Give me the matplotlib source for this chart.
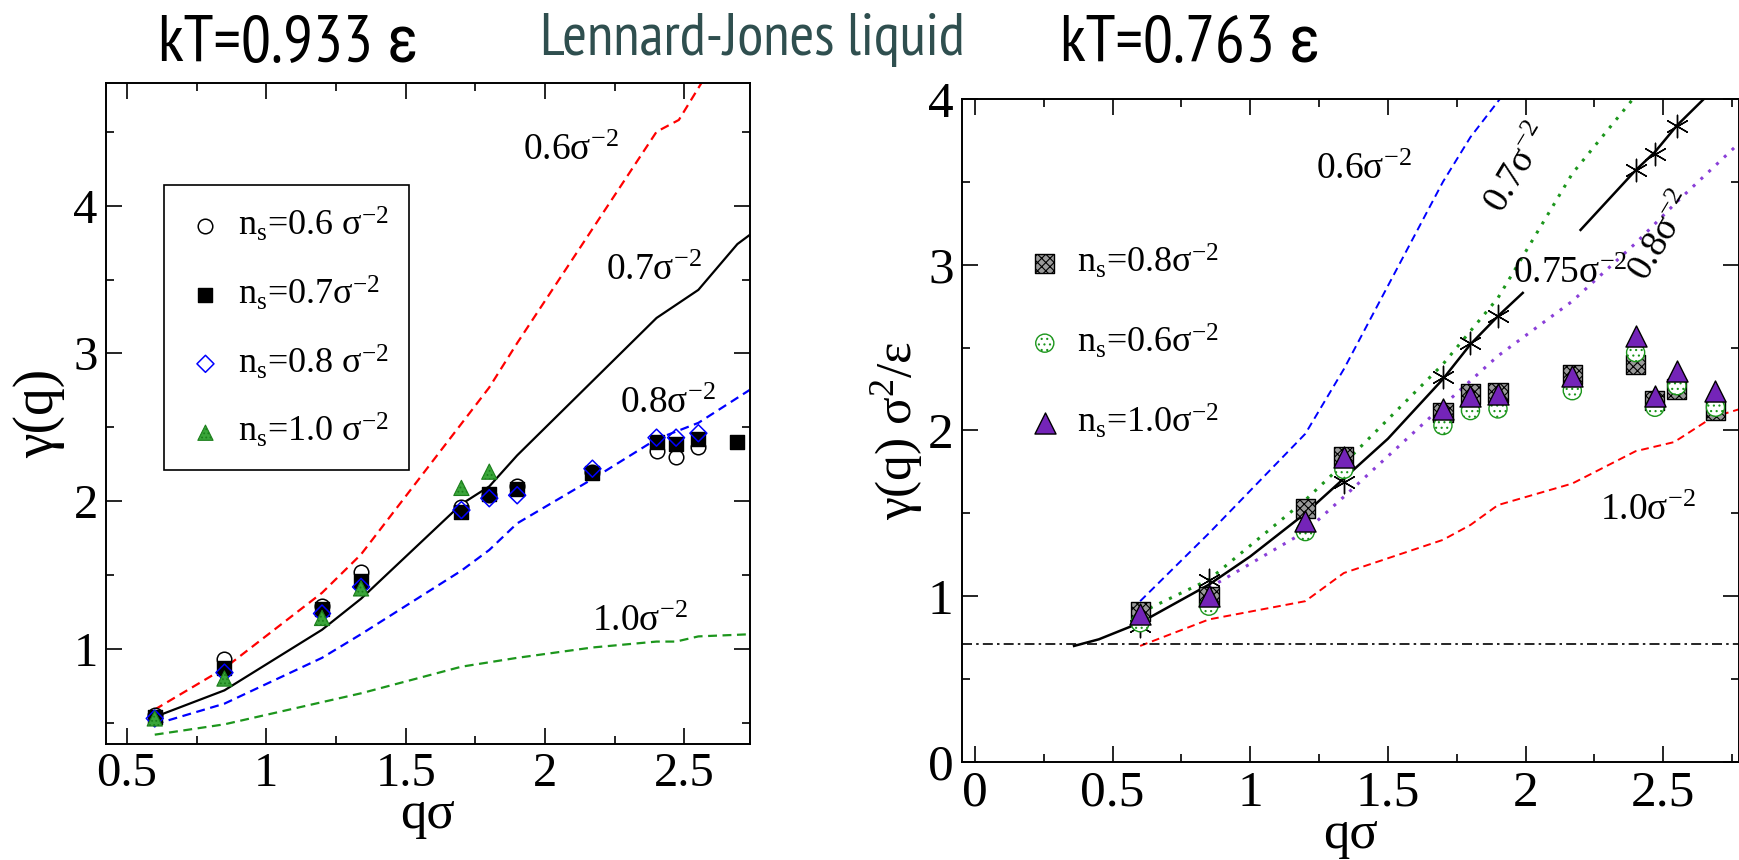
import numpy as np
import matplotlib
matplotlib.use('Agg')
import matplotlib.pyplot as plt
from matplotlib.ticker import MultipleLocator, FuncFormatter

plt.rcParams['font.family'] = ['Liberation Serif', 'DejaVu Serif']
plt.rcParams['mathtext.fontset'] = 'custom'
plt.rcParams['mathtext.rm'] = 'Liberation Serif'
plt.rcParams['mathtext.it'] = 'Liberation Serif:italic'
plt.rcParams['mathtext.bf'] = 'Liberation Serif:bold'
plt.rcParams['hatch.linewidth'] = 0.8

# ---------------- left panel data (kT = 0.933) ----------------
# theory curves
xl_06 = [0.6, 0.85, 1.2, 1.34, 1.8, 1.9, 2.4, 2.48, 2.6]
yl_06 = [0.59, 0.87, 1.38, 1.64, 2.77, 3.07, 4.50, 4.58, 4.95]
xl_07 = [0.6, 0.85, 1.2, 1.34, 1.7, 1.8, 1.9, 2.4, 2.55, 2.69, 2.74]
yl_07 = [0.54, 0.72, 1.13, 1.34, 1.98, 2.10, 2.31, 3.24, 3.43, 3.74, 3.81]
xl_08 = [0.6, 0.85, 1.2, 1.34, 1.7, 1.8, 1.9, 2.17, 2.4, 2.55, 2.74]
yl_08 = [0.49, 0.63, 0.94, 1.10, 1.53, 1.67, 1.85, 2.15, 2.42, 2.53, 2.76]
xl_10 = [0.6, 0.85, 1.2, 1.34, 1.7, 1.8, 1.9, 2.17, 2.4, 2.47, 2.55, 2.74]
yl_10 = [0.42, 0.49, 0.64, 0.70, 0.88, 0.91, 0.94, 1.01, 1.05, 1.05, 1.085, 1.10]

# simulation points
qs = [0.6, 0.85, 1.2, 1.34, 1.7, 1.8, 1.9, 2.17, 2.4, 2.47, 2.55, 2.69]
g_circ = [0.55, 0.93, 1.29, 1.52, 1.96, 2.04, 2.10, 2.20, 2.34, 2.30, 2.37]
g_sq = [0.54, 0.87, 1.27, 1.46, 1.93, 2.05, 2.08, 2.19, 2.40, 2.39, 2.42, 2.40]
g_dia = [0.53, 0.84, 1.24, 1.42, 1.94, 2.02, 2.04, 2.22, 2.43, 2.43, 2.46]
g_tri = [0.53, 0.80, 1.21, 1.41, 2.09, 2.20]

# ---------------- right panel data (kT = 0.763) ----------------
xr_06 = [0.6, 0.85, 1.2, 1.34, 1.7, 1.8, 1.93]
yr_06 = [0.97, 1.38, 1.98, 2.37, 3.50, 3.77, 4.05]
xr_07 = [0.6, 0.85, 1.2, 1.34, 1.7, 1.8, 1.9, 2.17, 2.4]
yr_07 = [0.90, 1.10, 1.58, 1.80, 2.40, 2.60, 2.80, 3.55, 4.02]
xr_075a = [0.36, 0.45, 0.6, 0.85, 1.0, 1.2, 1.34, 1.5, 1.7, 1.8, 1.9, 1.99]
yr_075a = [0.70, 0.74, 0.84, 1.07, 1.24, 1.50, 1.71, 1.95, 2.31, 2.52, 2.69, 2.83]
xr_075b = [2.2, 2.4, 2.47, 2.55, 2.66]
yr_075b = [3.21, 3.57, 3.68, 3.84, 4.02]
xr_08 = [0.85, 1.2, 1.34, 1.7, 1.8, 1.9, 2.17, 2.4, 2.55, 2.78]
yr_08 = [1.05, 1.39, 1.60, 2.15, 2.30, 2.45, 2.78, 3.13, 3.38, 3.74]
xr_10 = [0.6, 0.85, 1.2, 1.34, 1.7, 1.8, 1.9, 2.17, 2.4, 2.54, 2.68, 2.78]
yr_10 = [0.70, 0.86, 0.97, 1.14, 1.34, 1.43, 1.55, 1.68, 1.875, 1.93, 2.08, 2.13]
y_flat = 0.71

q_star = [0.6, 0.85, 1.34, 1.7, 1.8, 1.9, 2.4, 2.47, 2.55]
g_star = [0.82, 1.10, 1.69, 2.32, 2.53, 2.69, 3.57, 3.67, 3.84]
r_sq = [0.91, 1.00, 1.53, 1.845, 2.11, 2.22, 2.23, 2.34, 2.40, 2.18, 2.25, 2.12]
r_circ = [0.84, 0.94, 1.39, 1.765, 2.03, 2.12, 2.13, 2.24, 2.47, 2.14, 2.27, 2.14]
r_tri = [0.89, 1.00, 1.455, 1.84, 2.13, 2.21, 2.22, 2.33, 2.57, 2.21, 2.36, 2.24]

RED = '#ff0000'
BLUE = '#0000ff'
GREEN = '#1c961c'
PURPLE = '#8a3fd8'
TRI_PURPLE = '#7424b8'

fig = plt.figure(figsize=(17.4, 8.6), dpi=100)
ax1 = fig.add_axes([0.0609, 0.1349, 0.3701, 0.7686])
ax2 = fig.add_axes([0.5529, 0.1140, 0.4466, 0.7709])

fmt = FuncFormatter(lambda v, p: '%g' % v)


def style_axes(ax, fs):
    for s in ax.spines.values():
        s.set_linewidth(1.4)
    ax.tick_params(which='both', direction='in', top=True, right=True, width=1.2)
    ax.tick_params(which='major', length=11.5, labelsize=fs, pad=6)
    ax.tick_params(which='minor', length=5.8)
    ax.xaxis.set_major_formatter(fmt)
    ax.yaxis.set_major_formatter(fmt)


# ---------------- left ----------------
dash = (0, (4, 2.5))
ax1.plot(xl_06, yl_06, color=RED, lw=1.6, ls=dash)
ax1.plot(xl_07, yl_07, color='black', lw=1.6)
ax1.plot(xl_08, yl_08, color=BLUE, lw=1.6, ls=dash)
ax1.plot(xl_10, yl_10, color=GREEN, lw=1.6, ls=dash)

ax1.scatter(qs[:len(g_circ)], g_circ, s=110, marker='o', facecolor='white',
            edgecolor='black', lw=1.1, zorder=3)
ax1.scatter(qs, g_sq, s=95, marker='s', color='black', zorder=4)
ax1.scatter(qs[:len(g_dia)], g_dia, s=75, marker='D', facecolor='none',
            edgecolor=BLUE, lw=1.1, zorder=5)
ax1.scatter(qs[:len(g_tri)], g_tri, s=120, marker='^', facecolor='#3aa53a',
            edgecolor='#1c7f1c', hatch='....', lw=0.8, zorder=6)

ax1.set_xlim(0.425, 2.735)
ax1.set_ylim(0.357, 4.83)
ax1.xaxis.set_major_locator(MultipleLocator(0.5))
ax1.xaxis.set_minor_locator(MultipleLocator(0.25))
ax1.yaxis.set_major_locator(MultipleLocator(1))
ax1.yaxis.set_minor_locator(MultipleLocator(0.5))
style_axes(ax1, 35)
ax1.set_xlabel('qσ', fontsize=38, labelpad=-4)
ax1.set_ylabel('γ(q)', fontsize=40, labelpad=6)

ann = 27
ax1.text(1.92, 4.31, '0.6σ$^{-2}$', fontsize=ann, va='baseline')
ax1.text(2.22, 3.50, '0.7σ$^{-2}$', fontsize=ann, va='baseline')
ax1.text(2.27, 2.60, '0.8σ$^{-2}$', fontsize=ann, va='baseline')
ax1.text(2.17, 1.12, '1.0σ$^{-2}$', fontsize=ann, va='baseline')

h1 = [
    ax1.scatter([], [], s=110, marker='o', facecolor='white', edgecolor='black', lw=1.1),
    ax1.scatter([], [], s=95, marker='s', color='black'),
    ax1.scatter([], [], s=75, marker='D', facecolor='none', edgecolor=BLUE, lw=1.1),
    ax1.scatter([], [], s=120, marker='^', facecolor='#3aa53a', edgecolor='#1c7f1c',
                hatch='....', lw=0.8),
]
lab1 = ['n$_\\mathrm{s}$=0.6 σ$^{-2}$', 'n$_\\mathrm{s}$=0.7σ$^{-2}$',
        'n$_\\mathrm{s}$=0.8 σ$^{-2}$', 'n$_\\mathrm{s}$=1.0 σ$^{-2}$']
leg1 = ax1.legend(h1, lab1, loc='upper left', bbox_to_anchor=(0.09, 0.845),
                  fontsize=26, frameon=True, fancybox=False, edgecolor='black',
                  framealpha=1, handletextpad=0.3, labelspacing=0.85,
                  borderpad=0.55, handlelength=1.2, borderaxespad=0)
leg1.get_frame().set_linewidth(1.2)

# ---------------- right ----------------
dot = (0, (1, 2.5))
ax2.plot(xr_06, yr_06, color=BLUE, lw=1.4, ls=dash)
ax2.plot(xr_07, yr_07, color=GREEN, lw=2.2, ls=dot)
ax2.plot(xr_075a, yr_075a, color='black', lw=1.8)
ax2.plot(xr_075b, yr_075b, color='black', lw=1.8)
ax2.plot(xr_08, yr_08, color=PURPLE, lw=2.2, ls=dot)
ax2.plot(xr_10, yr_10, color=RED, lw=1.4, ls=dash)
ax2.axhline(y_flat, color='black', lw=1.2, ls=(0, (6, 2.5, 1.5, 2.5)))

ax2.scatter(q_star, g_star, s=260, marker=(6, 2, 0), color='black', lw=1.0, zorder=3)
ax2.scatter(qs, r_sq, s=190, marker='s', facecolor='#9a9a9a', edgecolor='black',
            hatch='xxxx', lw=1.0, zorder=4)
ax2.scatter(qs, r_circ, s=170, marker='o', facecolor='white', edgecolor=GREEN,
            hatch='...', lw=1.0, zorder=5)
ax2.scatter(qs, r_tri, s=230, marker='^', facecolor=TRI_PURPLE, edgecolor='black',
            lw=1.0, zorder=6)

ax2.set_xlim(-0.047, 2.776)
ax2.set_ylim(0, 4)
ax2.xaxis.set_major_locator(MultipleLocator(0.5))
ax2.xaxis.set_minor_locator(MultipleLocator(0.25))
ax2.yaxis.set_major_locator(MultipleLocator(1))
ax2.yaxis.set_minor_locator(MultipleLocator(0.5))
style_axes(ax2, 37)
ax2.set_xlabel('qσ', fontsize=38, labelpad=-4)
ax2.set_ylabel('γ(q) σ$^2$/ε', fontsize=37, labelpad=2)

ax2.text(1.24, 3.52, '0.6σ$^{-2}$', fontsize=ann, va='baseline')
ax2.text(1.915, 3.30, '0.7σ$^{-2}$', fontsize=ann, va='baseline', rotation=59,
         rotation_mode='anchor')
ax2.text(1.956, 2.89, '0.75σ$^{-2}$', fontsize=ann, va='baseline')
ax2.text(2.44, 2.89, '0.8σ$^{-2}$', fontsize=ann, va='baseline', rotation=59,
         rotation_mode='anchor')
ax2.text(2.27, 1.46, '1.0σ$^{-2}$', fontsize=ann, va='baseline')

h2 = [
    ax2.scatter([], [], s=190, marker='s', facecolor='#9a9a9a', edgecolor='black',
                hatch='xxxx', lw=1.0),
    ax2.scatter([], [], s=170, marker='o', facecolor='white', edgecolor=GREEN,
                hatch='...', lw=1.0),
    ax2.scatter([], [], s=230, marker='^', facecolor=TRI_PURPLE, edgecolor='black', lw=1.0),
]
lab2 = ['n$_\\mathrm{s}$=0.8σ$^{-2}$', 'n$_\\mathrm{s}$=0.6σ$^{-2}$',
        'n$_\\mathrm{s}$=1.0σ$^{-2}$']
ax2.legend(h2, lab2, loc='upper left', bbox_to_anchor=(0.06, 0.805), fontsize=26,
           frameon=False, handletextpad=0.3, labelspacing=1.15, handlelength=1.2,
           borderaxespad=0)

# ---------------- headings ----------------
sans = ['PT Sans Narrow', 'Roboto Condensed', 'DejaVu Sans']
fig.text(158 / 1740, 1 - 62 / 860, 'kT=0.933 ε', fontsize=48, family=sans,
         va='baseline', ha='left')
fig.text(540 / 1740, 1 - 55 / 860, 'Lennard-Jones liquid', fontsize=43, family=sans,
         color='#2f4f4f', va='baseline', ha='left')
fig.text(1060 / 1740, 1 - 62 / 860, 'kT=0.763 ε', fontsize=48, family=sans,
         va='baseline', ha='left')

fig.savefig('out.png', dpi=100)
